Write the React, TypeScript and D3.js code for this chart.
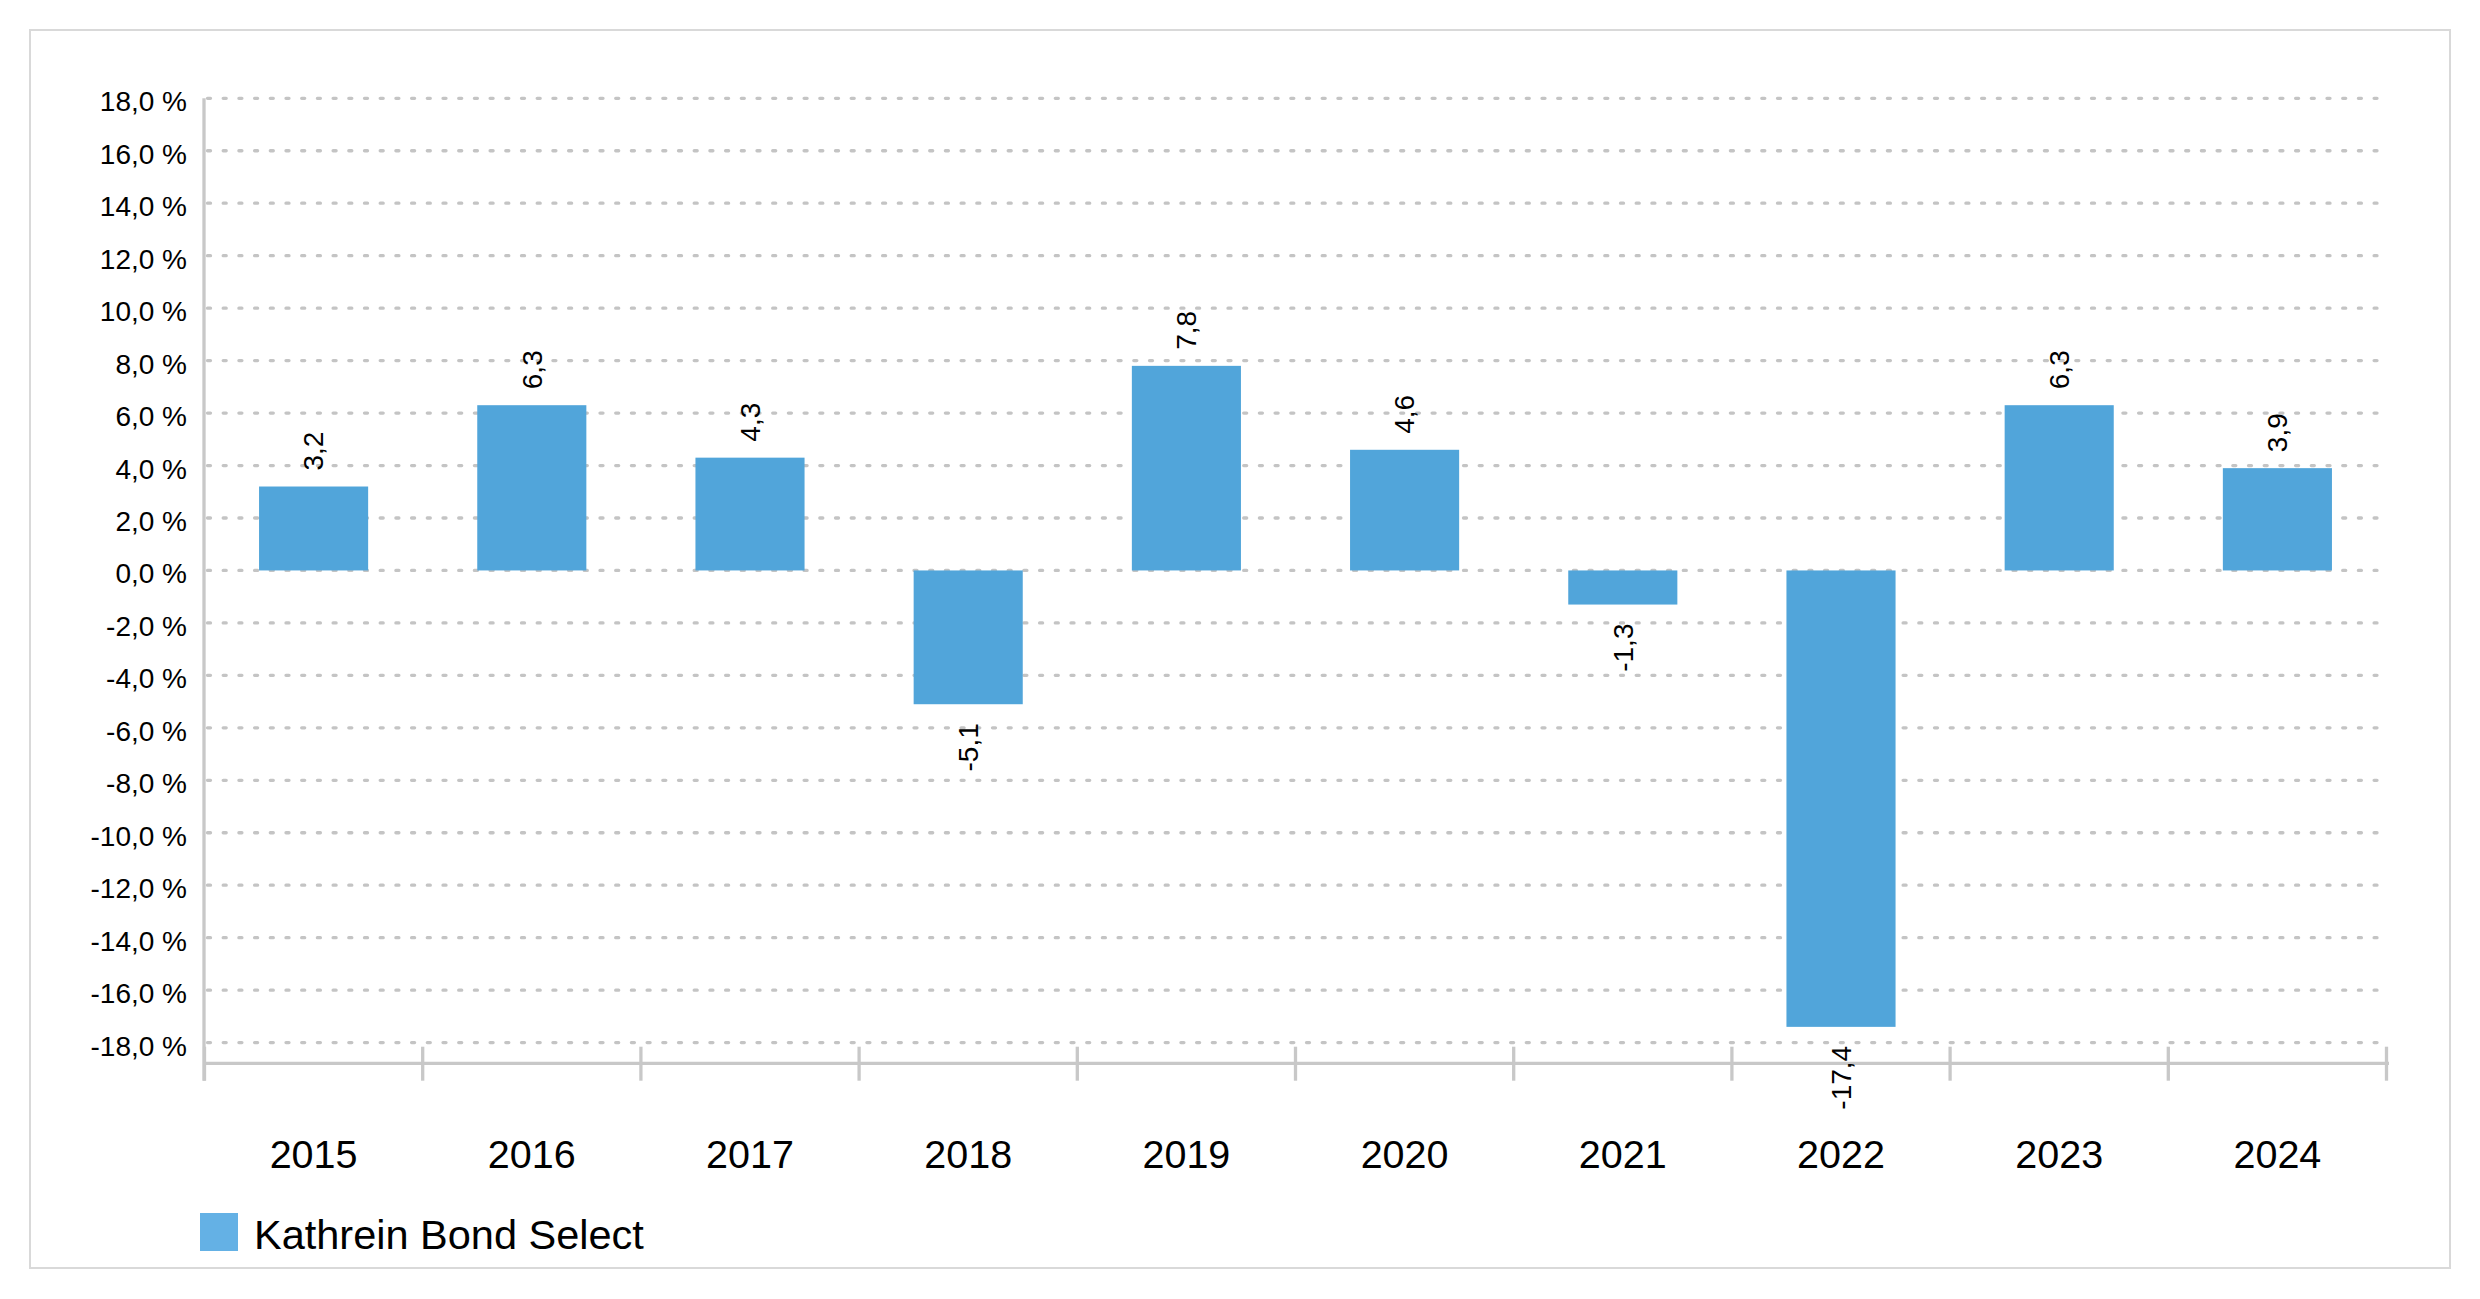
import React from "react";
import * as d3 from "d3";

const years = ["2015", "2016", "2017", "2018", "2019", "2020", "2021", "2022", "2023", "2024"];
const values = [3.2, 6.3, 4.3, -5.1, 7.8, 4.6, -1.3, -17.4, 6.3, 3.9];
const yTicks = [18, 16, 14, 12, 10, 8, 6, 4, 2, 0, -2, -4, -6, -8, -10, -12, -14, -16, -18];
const seriesName = "Kathrein Bond Select";

const W = 2480;
const H = 1299;
const FONT = "'Liberation Sans', Arial, Helvetica, sans-serif";
const BAR = "#51A5DA";
const SWATCH = "#64B1E5";
const AXIS = "#C8C8C8";
const GRID = "#C4C4C4";

const fmt1 = (v: number) => d3.format(".1f")(v).replace(".", ",").replace("−", "-");

export default function App() {
  const x = d3
    .scaleBand<string>()
    .domain(years)
    .range([204.5, 2386.5])
    .paddingInner(0.5)
    .paddingOuter(0.25);
  const step = x.step();
  const y = d3.scaleLinear().domain([-18, 18]).range([1042.6, 98.3]);

  const x0 = 204.5;
  const boundaries = years.map((_, i) => x0 + i * step).concat([x0 + years.length * step]);

  return (
    <svg
      width={W}
      height={H}
      viewBox={`0 0 ${W} ${H}`}
      style={{ position: "absolute", left: 0, top: 0, display: "block", background: "#fff" }}
    >
      <rect x={0} y={0} width={W} height={H} fill="#fff" />
      <rect x={30} y={30} width={2420} height={1238} fill="#fff" stroke="#D9D9D9" strokeWidth={2} />

      {/* gridlines */}
      {yTicks.map((t) => (
        <line
          key={"g" + t}
          x1={207.5}
          x2={2377}
          y1={y(t)}
          y2={y(t)}
          stroke={GRID}
          strokeWidth={3.3}
          strokeDasharray="3 12.7"
          strokeLinecap="round"
        />
      ))}

      {/* y tick labels */}
      {yTicks.map((t) => (
        <text
          key={"yl" + t}
          x={187}
          y={y(t) + 13}
          textAnchor="end"
          fontFamily={FONT}
          fontSize={28}
          fill="#000"
        >
          {fmt1(t) + " %"}
        </text>
      ))}

      {/* bars */}
      {values.map((v, i) => {
        const y0 = y(0);
        const yv = y(v);
        return (
          <rect
            key={"b" + i}
            x={x(years[i])!}
            y={Math.min(y0, yv)}
            width={x.bandwidth()}
            height={Math.abs(yv - y0)}
            fill={BAR}
          />
        );
      })}

      {/* axes */}
      <line x1={204} x2={204} y1={98.3} y2={1080.7} stroke={AXIS} strokeWidth={3.3} />
      <line x1={204} x2={2389} y1={1063.3} y2={1063.3} stroke={AXIS} strokeWidth={3.3} />
      {boundaries.map((bx, i) => (
        <line key={"t" + i} x1={bx} x2={bx} y1={1046.7} y2={1080.7} stroke={AXIS} strokeWidth={3.3} />
      ))}

      {/* data labels */}
      {values.map((v, i) => {
        const cx = x(years[i])! + x.bandwidth() / 2;
        const ay = v >= 0 ? y(v) - 16 : y(v) + 19;
        return (
          <text
            key={"dl" + i}
            transform={`translate(${cx},${ay}) rotate(-90)`}
            textAnchor={v >= 0 ? "start" : "end"}
            dy="0.35em"
            fontFamily={FONT}
            fontSize={28}
            fill="#000"
          >
            {fmt1(v)}
          </text>
        );
      })}

      {/* x labels */}
      {years.map((yr) => (
        <text
          key={"xl" + yr}
          x={x(yr)! + x.bandwidth() / 2}
          y={1167.7}
          textAnchor="middle"
          fontFamily={FONT}
          fontSize={39.5}
          fill="#000"
        >
          {yr}
        </text>
      ))}

      {/* legend */}
      <rect x={200} y={1213} width={38} height={38} fill={SWATCH} />
      <text x={254} y={1249} fontFamily={FONT} fontSize={41.5} fill="#000">
        {seriesName}
      </text>
    </svg>
  );
}
